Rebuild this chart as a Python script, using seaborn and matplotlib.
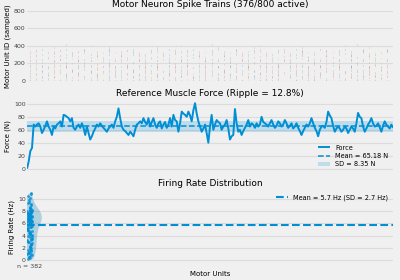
import numpy as np
import pandas as pd
import seaborn as sns
import matplotlib.pyplot as plt

plt.style.use("fivethirtyeight")
plt.rcParams["font.family"] = ["DejaVu Sans"]

BLUE = "#008fd5"

# spike raster: one string per sampled unit, "|" = spike in that time bin
unit_ids = list(range(0, 200, 10)) + list(range(200, 370, 10)) + [380, 400, 420]
spike_rows = [
    "|.|..|.|..||.|...|.|.|..|..|.|.||..|..|.|...|.||.|..|.|..|.",
    ".|..|.|.|...|.||..|.|..|.|..|..|.|.|..||.|..|..|.|.|..|.|..|",
    "|..|.|..|.|.|..|..|.||.|..|.|...|.|.|..|.|..|.||..|.|..|.|..",
    ".|.|..|..|.|.|..|.||..|.|..|.|.|..|..|.|.|...|.|.|..|.||..|.",
    "|.|.|..|..|..|.|.|..|.|.|..||..|.|..|.|.|..|..|.|..|.|..|.|.",
    "..|.|.|..|.|..|..|.|.|...|.|.|..|.|.||..|..|.|.|..|..|.|.|.|",
    "|..|..|.|..|.|.|..|..|.|.|..|.|..|...|.|.|..|.|.|..|..||.|..",
    ".|.|..|.|..|..|.|.|..|.|..|..|.|.|.|..|..|.|..|.|.|..|..|.|.",
    "|.|..|..|.|.|..|..|.|..|.|.|..|.|..|..|.|.|.|..|..|.|..|.|..",
    ".|..|.|.|..|..|.|..|.|.|..|..|.|.|..|.|..|..|.|.|..|.|..|..|",
    "|..|.|..|.|..|.|.|..|..|.|..|.|.|..|..|.|.|..|..|.|.|..|.|..",
    "..|.|..|..|.|.|..|.|..|.|.|..|..|.|..|.|.|..|.|..|..|.|.|..|",
    "|.|..|.|..|..|.|.|..|..|.|..|.|.|..|.|..|..|.|.|..|..|.|..|.",
    ".|..|..|.|.|..|..|.|.|..|.|..|..|.|.|..|.|..|.|..|.|..|.|.|.",
    "|..|.|..|..|.|..|.|..|.|.|..|.|..|..|.|.|..|..|.|..|.|..|..|",
    ".|.|..|.|..|..|.|..|.|..|..|.|.|..|.|..|.|.|..|..|.|.|..|.|.",
    "|..|..|.|.|..|.|..|..|.|.|..|..|.|..|.|.|..|.|..|..|.|..|.|.",
    "..|.|.|..|..|.|.|..|.|..|.|..|.|.|..|..|.|..|.|.|..|.|..|..|",
    "|.|..|..|.|..|..|.|.|..|..|.|.|..|.|..|..|.|.|..|.|..|.|.|..",
    ".|..|.|..|.|.|..|..|.|..|.|..|..|.|.|..|.|..|..|.|.|..|..|.|",
    "|...|..|...|.|...|...|..|...|.|...|..|...|...|.|...|..|...|..",
    "..|...|..|...|...|.|...|..|...|..|...|.|...|...|..|...|.|...|",
    ".|..|...|...|..|...|...|.|...|...|..|...|..|...|.|...|...|...",
    "|...|...|.|...|...|..|...|...|.|...|..|...|...|.|..|...|...|.",
    "..|..|...|...|.|...|...|..|...|.|...|...|..|...|...|.|...|..|",
    ".|...|..|...|...|.|...|..|...|...|.|..|...|...|..|...|.|...|.",
    "|..|...|...|..|...|.|...|...|..|...|...|.|...|..|...|...|.|..",
    "...|..|...|.|...|...|..|...|.|...|...|..|...|.|...|...|..|...",
    "|...|...|..|...|...|.|...|..|...|...|.|...|...|..|...|..|...|",
    ".|...|.|...|...|..|...|...|.|...|..|...|...|.|...|...|..|....",
    "..|...|...|..|...|.|...|...|..|...|.|...|...|..|...|.|...|..|",
    "|...|..|...|...|..|...|.|...|...|..|...|...|.|...|..|...|....",
    ".|..|...|...|.|...|...|..|...|...|.|...|..|...|...|..|...|.|.",
    "...|...|.|...|...|..|...|.|...|...|..|...|...|.|...|...|..|..",
    "|...|...|..|...|.|...|...|..|...|...|.|...|..|...|...|.|...|.",
    ".|...|...|...|..|...|...|.|...|...|..|...|...|...|.|...|...|.",
    "..|...|..|...|...|...|.|...|...|..|...|...|.|...|...|..|...|.",
    "....|........|.......|.........|.....|.......|..........|....",
    "..........|..............|............|.............|........",
    "......|.......................|.......................|......",
]

# reference muscle force (N), evenly sampled
force = [0, 11, 27, 32,
         68, 65, 68, 70, 65, 55, 60, 66, 73, 65, 60, 52, 65, 62, 68, 70,
         73, 65, 83, 82, 80, 78, 73, 78, 63, 60, 65, 68, 63, 70, 63, 52,
         65, 55, 45, 50, 57, 62, 68, 65, 70, 66, 63, 60, 57, 62, 65, 68,
         63, 73, 80, 93, 78, 65, 60, 58, 55, 52, 57, 54, 50, 60, 68, 70,
         73, 70, 78, 72, 68, 78, 65, 72, 78, 68, 63, 70, 73, 62, 68, 72,
         63, 68, 78, 65, 83, 75, 73, 57, 70, 88, 85, 83, 80, 88, 82, 73,
         90, 101, 85, 73, 65, 57, 62, 68, 55, 40, 65, 83, 60, 68, 75, 72,
         70, 60, 65, 68, 75, 62, 45, 50, 52, 92, 70, 57, 60, 52, 58, 63,
         68, 75, 65, 70, 68, 63, 70, 65, 68, 80, 72, 70, 68, 65, 70, 75,
         68, 63, 66, 73, 70, 65, 68, 75, 70, 63, 66, 70, 62, 65, 70, 63,
         58, 52, 58, 63, 68, 65, 70, 78, 70, 63, 58, 50, 60, 65, 66, 63,
         72, 88, 82, 78, 66, 57, 62, 65, 62, 57, 60, 65, 62, 55, 60, 65,
         62, 57, 70, 86, 80, 78, 65, 57, 62, 68, 72, 78, 70, 65, 66, 70,
         64, 57, 66, 73, 68, 65, 62, 68, 63]
force_mean = 65.18
force_sd = 8.35

# firing rates (Hz) of the active units
rates = [0.2, 0.3, 0.4, 0.5, 0.7, 0.8, 0.9, 1.0, 1.1, 1.2, 1.3, 1.5, 1.6, 1.7, 1.8, 2.0,
         2.1, 2.2, 2.3, 2.4, 2.6, 2.7, 2.8, 2.9, 3.0, 3.1, 3.2, 3.3, 3.4, 3.5, 3.6, 3.8,
         3.9, 4.0, 4.1, 4.2, 4.3, 4.4, 4.5, 4.6, 4.7, 4.8, 4.9, 5.0, 5.1, 5.2, 5.3, 5.4,
         5.5, 5.6, 5.7, 5.8, 5.9, 6.0, 6.1, 6.2, 6.3, 6.4, 6.5, 6.6, 6.7, 6.8, 6.9, 7.0,
         7.1, 7.2, 7.3, 7.4, 7.5, 7.6, 7.7, 7.8, 7.9, 8.0, 8.1, 8.2, 8.3, 8.4, 8.5, 8.6,
         8.8, 9.0, 9.2, 9.4, 9.6, 9.9, 10.2, 10.5, 10.8, 11.0, 6.9, 7.1, 7.3, 7.5, 7.7,
         7.9, 7.2, 7.6, 8.0, 6.6, 6.8, 7.4, 7.8, 8.2, 6.5, 7.0, 7.5, 8.1, 5.9, 6.2, 6.4]
rate_mean = 5.7
rate_sd = 2.7
n_units = 382

fig = plt.figure(figsize=(4, 2.8), dpi=100)
fig.patch.set_facecolor("#f0f0f0")
ax1 = fig.add_axes([0.0675, 0.711, 0.915, 0.25])
ax2 = fig.add_axes([0.0675, 0.386, 0.915, 0.257])
ax3 = fig.add_axes([0.0675, 0.061, 0.915, 0.26])

# --- raster
cycle = plt.rcParams["axes.prop_cycle"].by_key()["color"]
positions = [[i for i, ch in enumerate(row) if ch == "|"] for row in spike_rows]
ax1.eventplot(positions, lineoffsets=unit_ids, linelengths=12, linewidths=0.6,
              colors=[cycle[i % len(cycle)] for i in range(len(unit_ids))], alpha=0.4)
ax1.set_xlim(-0.5, 60)
ax1.set_ylim(0, 800)
ax1.set_yticks([0, 200, 400, 600, 800])
ax1.set_xticks([])
ax1.set_ylabel("Motor Unit ID (sampled)", fontsize=5, labelpad=2)
ax1.set_title("Motor Neuron Spike Trains (376/800 active)", fontsize=6.5, pad=3)

# --- force
t = np.arange(len(force))
sns.lineplot(x=t, y=force, ax=ax2, color=BLUE, linewidth=1.4, label="Force")
ax2.axhline(force_mean, color=BLUE, ls="--", lw=1.1, label=f"Mean = {force_mean:.2f} N")
ax2.axhspan(force_mean - force_sd, force_mean + force_sd, color=BLUE, alpha=0.2, lw=0,
            label=f"SD = {force_sd:.2f} N")
ax2.set_xlim(0, len(force) - 1)
ax2.set_ylim(-5, 106)
ax2.set_yticks([0, 20, 40, 60, 80, 100])
ax2.set_xticks([])
ax2.set_ylabel("Force (N)", fontsize=5, labelpad=2)
ax2.set_title("Reference Muscle Force (Ripple = 12.8%)", fontsize=6.5, pad=3)
ax2.legend(loc="lower right", fontsize=4.7, frameon=False, handlelength=1.8,
           labelspacing=0.35, borderaxespad=0.3)

# --- firing rates
df = pd.DataFrame({"group": f"n = {n_units}", "rate": rates})
sns.violinplot(data=df, x="group", y="rate", ax=ax3, color=BLUE, inner=None,
               linewidth=0, cut=0, width=1.1)
for c in ax3.collections:
    c.set_alpha(0.3)
sns.stripplot(data=df, x="group", y="rate", ax=ax3, color=BLUE, size=2,
              jitter=0.12, alpha=0.8, linewidth=0)
ax3.axhline(rate_mean, color=BLUE, ls="--", lw=1.5,
            label=f"Mean = {rate_mean:.1f} Hz (SD = {rate_sd:.1f} Hz)")
ax3.set_xlim(-0.12, 17)
ax3.set_ylim(-0.5, 11.5)
ax3.set_yticks([0, 2, 4, 6, 8, 10])
ax3.set_ylabel("Firing Rate (Hz)", fontsize=5, labelpad=2)
ax3.set_xlabel("Motor Units", fontsize=5, labelpad=1)
ax3.set_title("Firing Rate Distribution", fontsize=6.5, pad=3)
ax3.legend(loc="upper right", fontsize=4.7, frameon=False, handlelength=1.8,
           borderaxespad=0.3)

for ax in (ax1, ax2, ax3):
    ax.tick_params(labelsize=4.5, pad=1, length=0, colors="#444444")
    ax.set_facecolor("#f0f0f0")
    ax.grid(True, axis="y", color="#dcdcdc", lw=0.8)
    ax.grid(False, axis="x")
    for s in ax.spines.values():
        s.set_visible(False)

fig.savefig("out.png", dpi=100, facecolor=fig.get_facecolor())
